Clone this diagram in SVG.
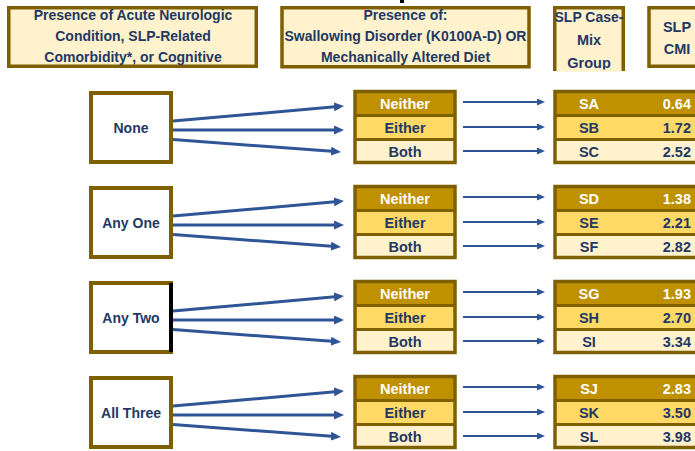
<svg xmlns="http://www.w3.org/2000/svg" width="695" height="451" viewBox="0 0 695 451">
<style>
text{font-family:"Liberation Sans",Arial,sans-serif;font-weight:bold;font-size:14px;fill:#1F3864;text-anchor:middle}
.t{font-size:14.5px}
.hdr{fill:#FFF2CC;stroke:#7F6000;stroke-width:3.5}
.node{fill:#FFFFFF;stroke:#7F6000;stroke-width:4}
.r1{fill:#BF9000}
.r2{fill:#FFD966}
.r3{fill:#FFF2CC}
.sep{stroke:#7F6000;stroke-width:3}
.frame{fill:none;stroke:#7F6000;stroke-width:3.5}
.w{fill:#FFFFFF}
.val{text-anchor:end}
.big{stroke:#2F5597;stroke-width:3;fill:none;marker-end:url(#ah)}
.small{stroke:#2F5597;stroke-width:2;fill:none;marker-end:url(#as)}
</style>
<defs>
<marker id="ah" markerUnits="userSpaceOnUse" viewBox="0 0 10 9" markerWidth="10" markerHeight="9" refX="1" refY="4.5" orient="auto"><path d="M0,0 L10,4.5 L0,9 z" fill="#2F5597"/></marker>
<marker id="as" markerUnits="userSpaceOnUse" viewBox="0 0 8 7" markerWidth="8" markerHeight="7" refX="1" refY="3.5" orient="auto"><path d="M0,0 L8,3.5 L0,7 z" fill="#2F5597"/></marker>
<clipPath id="clipH3"><rect x="550" y="0" width="80" height="69.5"/></clipPath>
<g id="midT">
<rect class="r1" x="355" y="91.5" width="100" height="24"/>
<rect class="r2" x="355" y="115.5" width="100" height="24"/>
<rect class="r3" x="355" y="139.5" width="100" height="23"/>
<line class="sep" x1="355" y1="115.5" x2="455" y2="115.5"/>
<line class="sep" x1="355" y1="139.5" x2="455" y2="139.5"/>
<rect class="frame" x="355" y="91.5" width="100" height="71"/>
<text class="w t" x="405" y="108.5">Neither</text>
<text class="t" x="405" y="132.5">Either</text>
<text class="t" x="405" y="156.5">Both</text>
</g>
<g id="rightT">
<rect class="r1" x="555" y="91.5" width="150" height="24"/>
<rect class="r2" x="555" y="115.5" width="150" height="24"/>
<rect class="r3" x="555" y="139.5" width="150" height="23"/>
<line class="sep" x1="555" y1="115.5" x2="705" y2="115.5"/>
<line class="sep" x1="555" y1="139.5" x2="705" y2="139.5"/>
<rect class="frame" x="555" y="91.5" width="150" height="71"/>
</g>
</defs>

<rect x="400" y="0" width="4" height="3" fill="#000000"/>

<g id="header-condition">
<rect class="hdr" x="8.75" y="7.75" width="247.5" height="58.5"/>
<text x="133" y="19.5">Presence of Acute Neurologic</text>
<text x="133" y="40.5">Condition, SLP-Related</text>
<text x="133" y="61.5">Comorbidity*, or Cognitive</text>
</g>
<g id="header-swallowing">
<rect class="hdr" x="282" y="7.75" width="247" height="59"/>
<text x="405.5" y="20">Presence of:</text>
<text x="405.5" y="41">Swallowing Disorder (K0100A-D) OR</text>
<text x="405.5" y="62">Mechanically Altered Diet</text>
</g>
<g id="header-group">
<rect x="554.75" y="7.75" width="68.5" height="64" fill="#FFF2CC"/>
<path d="M554.75,71 V7.75 H623.25 V71" fill="none" stroke="#7F6000" stroke-width="3.5"/>
<g clip-path="url(#clipH3)">
<text x="589" y="21.5" style="font-size:14px">SLP Case-</text>
<text x="589" y="44.5" style="font-size:14.5px">Mix</text>
<text x="589" y="67.5" style="font-size:14.5px">Group</text>
</g>
</g>
<g id="header-cmi">
<rect class="hdr" x="649" y="7.75" width="60" height="58.5"/>
<text x="677" y="32" style="font-size:14.5px">SLP</text>
<text x="677" y="53.5" style="font-size:14.5px">CMI</text>
</g>

<g id="node-none">
<rect class="node" x="91" y="93" width="80" height="69"/>
<text x="131" y="132.5">None</text>
</g>
<g id="node-anyone">
<rect class="node" x="91" y="188" width="80" height="69"/>
<text x="131" y="227.5">Any One</text>
</g>
<g id="node-anytwo">
<rect class="node" x="91" y="283" width="80" height="69"/>
<line x1="171" y1="283" x2="171" y2="352" stroke="#000000" stroke-width="4"/>
<text x="131" y="322.5">Any Two</text>
</g>
<g id="node-allthree">
<rect class="node" x="91" y="378" width="80" height="69"/>
<text x="131" y="417.5">All Three</text>
</g>

<g id="options-none"><use href="#midT"/></g>
<g id="options-anyone"><use href="#midT" y="95"/></g>
<g id="options-anytwo"><use href="#midT" y="190"/></g>
<g id="options-allthree"><use href="#midT" y="285"/></g>

<g id="groups-none">
<use href="#rightT"/>
<text class="w t" x="589" y="108.5">SA</text><text class="w val t" x="691" y="108.5">0.64</text>
<text class="t" x="589" y="132.5">SB</text><text class="val t" x="691" y="132.5">1.72</text>
<text class="t" x="589" y="156.5">SC</text><text class="val t" x="691" y="156.5">2.52</text>
</g>
<g id="groups-anyone">
<use href="#rightT" y="95"/>
<text class="w t" x="589" y="203.5">SD</text><text class="w val t" x="691" y="203.5">1.38</text>
<text class="t" x="589" y="227.5">SE</text><text class="val t" x="691" y="227.5">2.21</text>
<text class="t" x="589" y="251.5">SF</text><text class="val t" x="691" y="251.5">2.82</text>
</g>
<g id="groups-anytwo">
<use href="#rightT" y="190"/>
<text class="w t" x="589" y="298.5">SG</text><text class="w val t" x="691" y="298.5">1.93</text>
<text class="t" x="589" y="322.5">SH</text><text class="val t" x="691" y="322.5">2.70</text>
<text class="t" x="589" y="346.5">SI</text><text class="val t" x="691" y="346.5">3.34</text>
</g>
<g id="groups-allthree">
<use href="#rightT" y="285"/>
<text class="w t" x="589" y="393.5">SJ</text><text class="w val t" x="691" y="393.5">2.83</text>
<text class="t" x="589" y="417.5">SK</text><text class="val t" x="691" y="417.5">3.50</text>
<text class="t" x="589" y="441.5">SL</text><text class="val t" x="691" y="441.5">3.98</text>
</g>

<g id="connectors">
<line class="big" x1="173" y1="121" x2="335" y2="106.8"/>
<line class="big" x1="173" y1="130" x2="335" y2="130"/>
<line class="big" x1="173" y1="139.5" x2="332" y2="151.3"/>
<line class="big" x1="173" y1="216" x2="335" y2="201.8"/>
<line class="big" x1="173" y1="225" x2="335" y2="225"/>
<line class="big" x1="173" y1="234.5" x2="332" y2="246.3"/>
<line class="big" x1="173" y1="311" x2="335" y2="296.8"/>
<line class="big" x1="173" y1="320" x2="335" y2="320"/>
<line class="big" x1="173" y1="329.5" x2="332" y2="341.3"/>
<line class="big" x1="173" y1="406" x2="335" y2="391.8"/>
<line class="big" x1="173" y1="415" x2="335" y2="415"/>
<line class="big" x1="173" y1="424.5" x2="332" y2="436.3"/>
<line class="small" x1="463" y1="102" x2="538" y2="102"/>
<line class="small" x1="463" y1="127" x2="538" y2="127"/>
<line class="small" x1="463" y1="151" x2="538" y2="151"/>
<line class="small" x1="463" y1="197" x2="538" y2="197"/>
<line class="small" x1="463" y1="222" x2="538" y2="222"/>
<line class="small" x1="463" y1="246" x2="538" y2="246"/>
<line class="small" x1="463" y1="292" x2="538" y2="292"/>
<line class="small" x1="463" y1="317" x2="538" y2="317"/>
<line class="small" x1="463" y1="341" x2="538" y2="341"/>
<line class="small" x1="463" y1="387" x2="538" y2="387"/>
<line class="small" x1="463" y1="412" x2="538" y2="412"/>
<line class="small" x1="463" y1="436" x2="538" y2="436"/>
</g>
</svg>
